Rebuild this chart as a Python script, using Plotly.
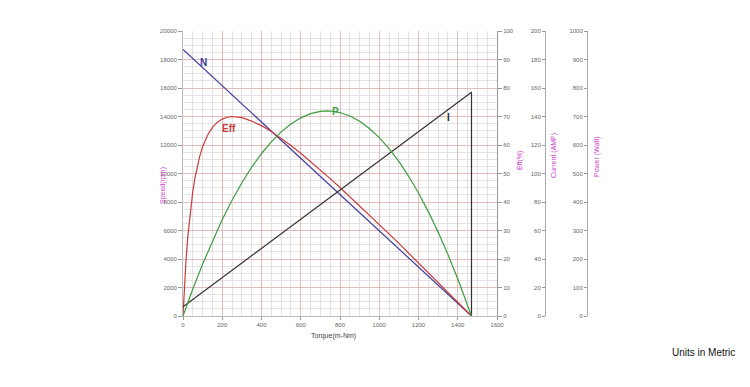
import plotly.graph_objects as go

# Data
torque_n = [0, 1470]
speed_n = [18700, 0]

torque_eff = [0, 2, 5, 10, 15, 25, 35, 50, 60, 75, 85, 100, 125, 150, 175, 200, 225, 250, 275, 300, 350, 400,
              450, 500, 550, 600, 650, 700, 750, 800, 850, 900, 950, 1000, 1050, 1100, 1150, 1200, 1250, 1300,
              1350, 1400, 1440, 1470]
eff_pct = [0, 3.0, 7.2, 13.6, 19.1, 28.2, 35.0, 43.7, 48.1, 53.2, 56.0, 59.4, 63.4, 66.2, 68.0, 69.1, 69.75, 70.0, 69.9, 69.6, 68.4, 66.8,
           64.7, 62.4, 59.8, 57.1, 54.2, 51.3, 48.2, 45.1, 41.9, 38.7, 35.5, 32.1, 28.8, 25.5, 22.1, 18.7, 15.2, 11.8,
           8.3, 4.9, 2.1, 0]

torque_p = [0, 25, 50, 100, 150, 200, 250, 300, 350, 400, 450, 500, 550, 600, 650, 700, 735, 750, 800, 850,
            900, 950, 1000, 1050, 1100, 1150, 1200, 1250, 1300, 1350, 1400, 1440, 1470]
power_w = [0, 48.1, 94.6, 182.5, 263.7, 338.3, 406.3, 467.6, 522.2, 570.2, 611.3, 646.2, 674.0, 695.3, 710.0, 717.9, 719.7, 719.2, 713.9, 701.9,
           683.4, 658.1, 626.0, 587.4, 542.2, 490.1, 431.6, 366.3, 294.3, 215.8, 130.6, 57.6, 0]

torque_i = [0, 1470, 1470]
current_a = [6.5, 157, 0]

x_ticks = [0, 200, 400, 600, 800, 1000, 1200, 1400, 1600]
speed_ticks = [0, 2000, 4000, 6000, 8000, 10000, 12000, 14000, 16000, 18000, 20000]
eff_ticks = [0, 10, 20, 30, 40, 50, 60, 70, 80, 90, 100]
current_ticks = [0, 20, 40, 60, 80, 100, 120, 140, 160, 180, 200]
power_ticks = [0, 100, 200, 300, 400, 500, 600, 700, 800, 900, 1000]

W, H = 750, 387
OFF = 8  # page body margin


def px(x):
    return (x - OFF) / W


def py(y):
    return 1 - (y - OFF) / H


x0, x1 = 183, 497
ytop, ybot = 31, 316

tickfont = dict(family="Liberation Sans, Arial", size=6, color="#666")
BLUE = "#3b3b9e"
RED = "#cc3b3b"
GREEN = "#3f9a3f"
BLACK = "#333333"
MAG = "#cc44cc"

fig = go.Figure()
fig.add_trace(go.Scatter(x=torque_n, y=speed_n, mode="lines", line=dict(color=BLUE, width=1.2), yaxis="y", showlegend=False))
fig.add_trace(go.Scatter(x=torque_eff, y=eff_pct, mode="lines", line=dict(color=RED, width=1.2), yaxis="y2", showlegend=False))
fig.add_trace(go.Scatter(x=torque_p, y=power_w, mode="lines", line=dict(color=GREEN, width=1.2), yaxis="y4", showlegend=False))
fig.add_trace(go.Scatter(x=torque_i, y=current_a, mode="lines", line=dict(color=BLACK, width=1.2), yaxis="y3", showlegend=False))

grid_major = "rgba(225,170,170,0.7)"
grid_minor = "rgba(215,215,215,0.7)"

fig.update_layout(
    width=W, height=H,
    margin=dict(l=0, r=0, t=0, b=0, autoexpand=False),
    paper_bgcolor="white", plot_bgcolor="white",
    showlegend=False,
    xaxis=dict(domain=[px(x0), px(x1)], range=[0, 1600], tickvals=x_ticks, ticktext=[str(v) for v in x_ticks],
               showgrid=True, gridcolor=grid_major, gridwidth=1, automargin=False,
               minor=dict(dtick=50, showgrid=True, gridcolor=grid_minor, gridwidth=0.6),
               zeroline=False, showline=True, linecolor="#bbb", linewidth=1,
               ticks="outside", ticklen=3, tickcolor="#999", tickfont=tickfont, anchor="y"),
    yaxis=dict(domain=[py(ybot), py(ytop)], range=[0, 20000], tickvals=speed_ticks, ticktext=[str(v) for v in speed_ticks],
               showgrid=True, gridcolor=grid_major, gridwidth=1, automargin=False,
               minor=dict(dtick=500, showgrid=True, gridcolor=grid_minor, gridwidth=0.6),
               zeroline=False, showline=True, linecolor="#bbb", linewidth=1,
               ticks="outside", ticklen=4, tickcolor="#999", tickfont=tickfont, anchor="x"),
    yaxis2=dict(domain=[py(ybot), py(ytop)], range=[0, 100], tickvals=eff_ticks, overlaying="y", side="right", anchor="x",
                showgrid=False, zeroline=False, showline=True, linecolor="#999", linewidth=1, automargin=False,
                ticks="outside", ticklen=4, tickcolor="#999", tickfont=tickfont),
    yaxis3=dict(domain=[py(ybot), py(ytop)], range=[0, 200], tickvals=current_ticks, overlaying="y", side="left",
                anchor="free", position=px(545), automargin=False,
                showgrid=False, zeroline=False, showline=True, linecolor="#aaa", linewidth=1,
                ticks="outside", ticklen=3, tickcolor="#999", tickfont=tickfont),
    yaxis4=dict(domain=[py(ybot), py(ytop)], range=[0, 1000], tickvals=power_ticks, overlaying="y", side="left",
                anchor="free", position=px(587), automargin=False,
                showgrid=False, zeroline=False, showline=True, linecolor="#aaa", linewidth=1,
                ticks="outside", ticklen=3, tickcolor="#999", tickfont=tickfont),
)


def ann(text, x, y, color, size=7, angle=0, bold=False, family="Liberation Sans, Arial"):
    fig.add_annotation(text=("<b>%s</b>" % text) if bold else text, x=px(x), y=py(y), xref="paper", yref="paper",
                       showarrow=False, textangle=angle, font=dict(family=family, size=size, color=color),
                       xanchor="center", yanchor="middle")


ann("Speed(rpm)", 163, 186, MAG, size=7, angle=-90)
ann("Eff(%)", 520, 161, MAG, size=7, angle=-90)
ann("Current (AMP)", 554, 156, MAG, size=7, angle=-90)
ann("Power (Watt)", 597, 157, MAG, size=7, angle=-90)
ann("Torque(m-Nm)", 333, 336, "#444", size=7)
ann("Units in Metric", 703, 352, "#111", size=10)

ann("N", 204, 62, BLUE, size=10, bold=True)
ann("Eff", 229, 128, RED, size=10, bold=True)
ann("P", 335, 112, GREEN, size=10, bold=True)
ann("I", 448, 117, BLACK, size=10, bold=True)

fig.write_html("out.html")
